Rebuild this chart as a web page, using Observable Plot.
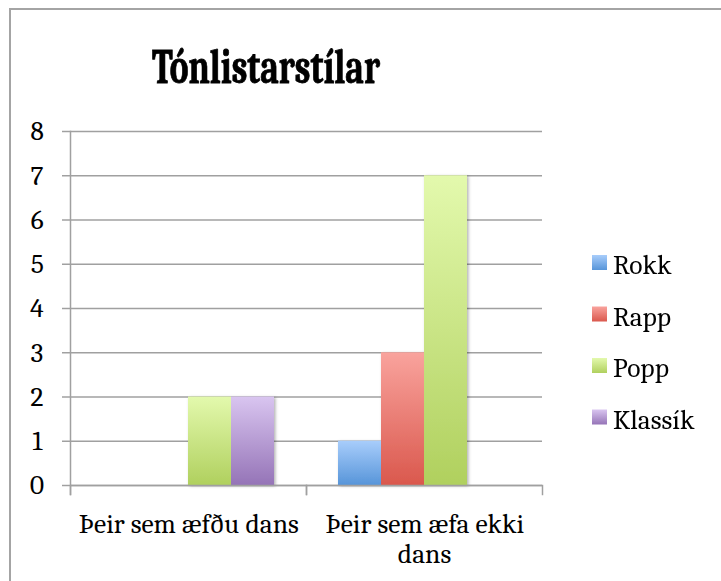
<!DOCTYPE html>
<html>
<head>
<meta charset="utf-8">
<script src="https://cdn.jsdelivr.net/npm/d3@7"></script>
<script src="https://cdn.jsdelivr.net/npm/@observablehq/plot@0.6"></script>
<style>
  html, body { margin: 0; padding: 0; background: #fff; overflow: hidden; }
  #wrap { position: relative; width: 721px; height: 581px; overflow: hidden; font-family: Caladea, Cambria, serif; }
  #border { position: absolute; left: 9px; top: 8px; width: 800px; height: 700px; border: 2px solid #a4a4a4; box-sizing: border-box; }
  #chart, #overlay { position: absolute; left: 0; top: 0; }
  #chart svg, #chart svg text, #overlay text { font-family: Caladea, Cambria, serif !important; }
</style>
</head>
<body>
<div id="wrap">
  <div id="border"></div>
  <div id="chart"></div>
  <svg id="overlay" width="721" height="581"></svg>
</div>
<script>
// ---- data ----
const titleText = "Tónlistarstílar";
const categories = ["Þeir sem æfðu dans", "Þeir sem æfa ekki dans"];
const categoryLabels = ["Þeir sem æfðu dans", "Þeir sem æfa ekki\ndans"];
const seriesNames = ["Rokk", "Rapp", "Popp", "Klassík"];
const rokk = [0, 1];
const rapp = [0, 3];
const popp = [2, 7];
const klassik = [2, 0];
const yTicks = [0, 1, 2, 3, 4, 5, 6, 7, 8];
const gradTop = ["#a8cdfb", "#f9a39d", "#e3f9ad", "#d9c5f0"];
const gradBottom = ["#5795d9", "#da584d", "#b0d05e", "#9574b7"];

// ---- build ----
const seriesValues = [rokk, rapp, popp, klassik];
const data = [];
categories.forEach((c, ci) => seriesNames.forEach((s, si) => data.push({category: c, series: s, value: seriesValues[si][ci]})));
const gradIds = seriesNames.map((s, i) => `grad${i}`);

const W = 721, H = 581;
const mL = 69, mR = 179, mT = 131, mB = 96;
const innerH = H - mT - mB;
const gray = "#a0a0a0";
const fontStack = "Caladea, Cambria, serif";
const fs = 27.5;

const plot = Plot.plot({
  width: W,
  height: H,
  marginLeft: mL,
  marginRight: mR,
  marginTop: mT,
  marginBottom: mB,
  style: {background: "transparent", fontFamily: fontStack, fontSize: fs + "px", color: "#000", overflow: "visible"},
  fx: {domain: categories, padding: 0, label: null},
  x: {domain: seriesNames, paddingInner: 0, paddingOuter: 0.725, axis: null},
  y: {domain: [0, 8], label: null},
  color: {type: "ordinal", domain: seriesNames, range: gradIds.map(id => `url(#${id})`)},
  marks: [
    Plot.gridY(yTicks, {stroke: gray, strokeOpacity: 1, strokeWidth: 1.5}),
    Plot.barY(data, {filter: d => d.value > 0, fx: "category", x: "series", y: "value", fill: "series", inset: 0}),
    Plot.ruleY([0], {stroke: gray, strokeWidth: 1.5}),
    Plot.frame({anchor: "left", facetAnchor: "left", stroke: gray, strokeWidth: 1.5, insetBottom: -9}),
    Plot.frame({anchor: "left", stroke: gray, strokeWidth: 1.5, insetTop: innerH, insetBottom: -9}),
    Plot.frame({anchor: "right", stroke: gray, strokeWidth: 1.5, insetTop: innerH, insetBottom: -9}),
    Plot.axisY({ticks: yTicks, tickSize: 8, tickPadding: 18, stroke: gray, strokeWidth: 1.5, fontSize: fs, fontFamily: fontStack, label: null, fill: "#000", tickFormat: d => String(d)}),
    Plot.axisFx({anchor: "bottom", tickSize: 0, tickPadding: 25.5, fontSize: fs, fontFamily: fontStack, lineHeight: 1.116, label: null, fill: "#000",
                 tickFormat: d => categoryLabels[categories.indexOf(d)]})
  ]
});

// gradients + shadow
const defs = d3.select(plot).insert("defs", ":first-child");
gradIds.forEach((id, i) => {
  const g = defs.append("linearGradient").attr("id", id).attr("x1", 0).attr("y1", 0).attr("x2", 0).attr("y2", 1);
  g.append("stop").attr("offset", "0%").attr("stop-color", gradTop[i]);
  g.append("stop").attr("offset", "100%").attr("stop-color", gradBottom[i]);
});
const f = defs.append("filter").attr("id", "shadow").attr("x", "-20%").attr("y", "-20%").attr("width", "150%").attr("height", "140%");
f.append("feDropShadow").attr("dx", 1.5).attr("dy", 1).attr("stdDeviation", 1.5).attr("flood-color", "#000").attr("flood-opacity", 0.3);
d3.select(plot).selectAll('g[aria-label="bar"]').attr("filter", "url(#shadow)");

document.getElementById("chart").appendChild(plot);

// title + legend (overlay)
const ov = d3.select("#overlay");
const ldefs = ov.append("defs");
gradIds.forEach((id, i) => {
  const g = ldefs.append("linearGradient").attr("id", "l" + id).attr("x1", 0).attr("y1", 0).attr("x2", 0).attr("y2", 1);
  g.append("stop").attr("offset", "0%").attr("stop-color", gradTop[i]);
  g.append("stop").attr("offset", "100%").attr("stop-color", gradBottom[i]);
});
ov.append("text").attr("x", 152).attr("y", 83)
  .attr("textLength", 228).attr("lengthAdjust", "spacingAndGlyphs")
  .attr("font-family", fontStack).attr("font-weight", "bold").attr("font-size", 48)
  .attr("fill", "#000").attr("stroke", "#000").attr("stroke-width", 0.8).text(titleText);
const lg = ov.append("g");
seriesNames.forEach((s, i) => {
  const y0 = 255 + i * 51.5;
  lg.append("rect").attr("x", 592).attr("y", y0).attr("width", 15).attr("height", 15).attr("fill", `url(#l${gradIds[i]})`);
  lg.append("text").attr("x", 613).attr("y", y0 + 19).attr("font-family", fontStack).attr("font-size", fs).attr("fill", "#000").text(s);
});
</script>
</body>
</html>
